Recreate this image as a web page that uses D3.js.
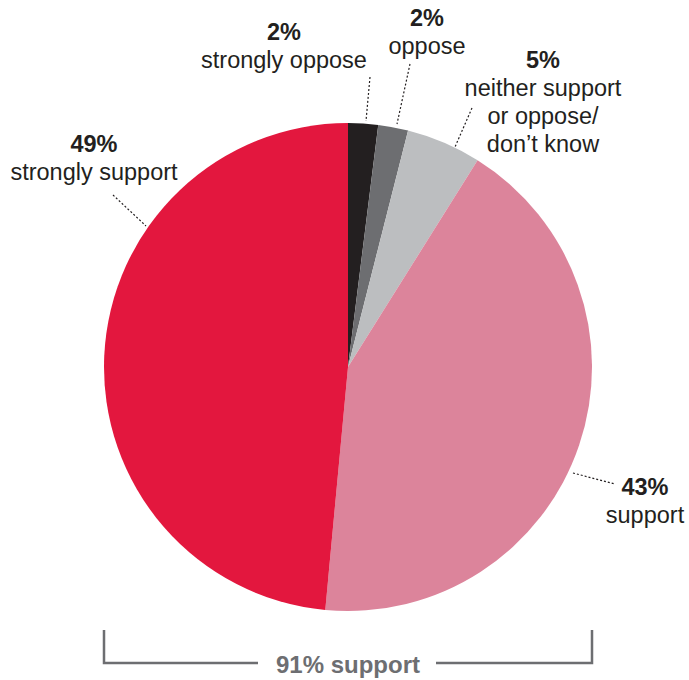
<!DOCTYPE html>
<html>
<head>
<meta charset="utf-8">
<script src="https://cdn.jsdelivr.net/npm/d3@7"></script>
<style>
html,body{margin:0;padding:0;background:#fff;}
svg{display:block;font-family:"Liberation Sans",Arial,Helvetica,sans-serif;}
</style>
</head>
<body>
<div id="chart"></div>
<script>
const categories = ["strongly oppose", "oppose", "neither support or oppose/don’t know", "support", "strongly support"];
const values = [2, 2, 5, 43, 49];
const pctLabels = ["2%", "2%", "5%", "43%", "49%"];
const textLines = [["strongly oppose"], ["oppose"], ["neither support", "or oppose/", "don’t know"], ["support"], ["strongly support"]];
const colors = ["#231f20", "#6d6e71", "#bcbec0", "#dc849b", "#e3173e"];
const totalLabel = "91% support";

const W = 689, H = 680;
const cx = 348, cy = 367, R = 244;

const svg = d3.select("#chart").append("svg").attr("width", W).attr("height", H);

const pie = d3.pie().sort(null).value(d => d)(values);
const arc = d3.arc().innerRadius(0).outerRadius(R);

const g = svg.append("g").attr("transform", `translate(${cx},${cy})`);
g.selectAll("path").data(pie).enter().append("path")
  .attr("d", arc)
  .attr("fill", (d, i) => colors[i]);

// label layout (positions relative to page)
const labelPos = [
  {x: 284, y: 40, line: [[370, 77], [366, 121]]},
  {x: 427, y: 26, line: [[410, 64], [397, 124]]},
  {x: 543, y: 68, line: [[472, 108], [455, 147]]},
  {x: 645, y: 495, line: [[573, 473], [615, 484]]},
  {x: 94, y: 152, line: [[113, 195], [146, 226]]}
];

const lg = svg.append("g");
labelPos.forEach((p, i) => {
  lg.append("line")
    .attr("x1", p.line[0][0]).attr("y1", p.line[0][1])
    .attr("x2", p.line[1][0]).attr("y2", p.line[1][1])
    .attr("stroke", "#231f20").attr("stroke-width", 1.2)
    .attr("stroke-dasharray", "2,2");
  const t = lg.append("text")
    .attr("x", p.x).attr("y", p.y)
    .attr("text-anchor", "middle")
    .attr("fill", "#231f20")
    .style("font-size", "23.5px");
  t.append("tspan").attr("x", p.x).attr("font-weight", "bold").text(pctLabels[i]);
  textLines[i].forEach((ln, k) => {
    t.append("tspan").attr("x", p.x).attr("dy", k === 0 ? 28 : 28).text(ln);
  });
});

// bracket
const bx0 = cx - R, bx1 = cx + R, by0 = 630, by1 = 663;
const bc = "#6d6e71";
svg.append("path")
  .attr("d", `M${bx0},${by0}V${by1}H258`)
  .attr("fill", "none").attr("stroke", bc).attr("stroke-width", 2.5);
svg.append("path")
  .attr("d", `M436,${by1}H${bx1}V${by0}`)
  .attr("fill", "none").attr("stroke", bc).attr("stroke-width", 2.5);
svg.append("text")
  .attr("x", cx).attr("y", 673)
  .attr("text-anchor", "middle")
  .attr("fill", bc)
  .attr("font-weight", "bold")
  .style("font-size", "24px")
  .text(totalLabel);
</script>
</body>
</html>
